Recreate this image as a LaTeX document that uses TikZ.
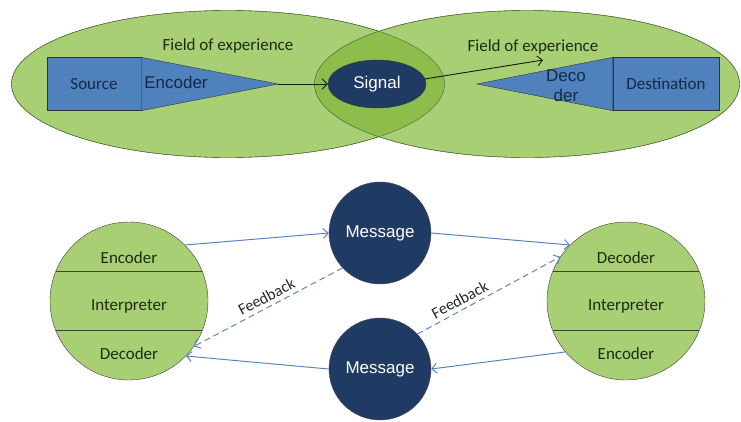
\documentclass[tikz,border=0pt]{standalone}
\usepackage{fontspec}
\setmainfont{Carlito}
\newfontfamily\arialfont{Liberation Sans}
\usetikzlibrary{shapes,arrows,arrows.meta}
\definecolor{fieldgreen}{HTML}{A8CF74}
\definecolor{overlapgreen}{HTML}{8DBE4C}
\definecolor{fieldline}{HTML}{4E6A32}
\definecolor{boxblue}{HTML}{4F81BD}
\definecolor{navy}{HTML}{1F3A63}
\definecolor{linkblue}{HTML}{5A85BE}
\definecolor{inkgreen}{HTML}{1F2B12}
\tikzstyle{field} = [ellipse, draw=fieldline, fill=fieldgreen, minimum height=147pt]
\tikzstyle{block} = [rectangle, draw=black!80, fill=boxblue, minimum height=53pt, text=navy!70!black]
\tikzstyle{wedge} = [draw=black!80, fill=boxblue]
\tikzstyle{arial} = [font=\arialfont\fontsize{17}{20}\selectfont]
\tikzstyle{disc} = [circle, draw=black!70, fill=navy, text=white, minimum size=102pt, arial]
\tikzstyle{person} = [circle, draw=black!75, fill=fieldgreen, minimum size=158pt]
\tikzstyle{line} = [draw, -{Straight Barb[length=5pt,width=10pt]}]
\tikzstyle{signalline} = [line, draw=black!75!fieldline, line width=0.9pt]
\tikzstyle{link} = [line, draw=linkblue, line width=1pt]
\tikzstyle{feedback} = [link, dash pattern=on 6pt off 4pt]
\tikzstyle{feedbacktext} = [sloped, above=3pt, inner sep=1pt, text=black!85, font=\fontsize{16}{18}\selectfont]

\begin{document}
\begin{tikzpicture}[x=1pt, y=-1pt, font=\fontsize{17}{20}\selectfont]
	\useasboundingbox (0,0) rectangle (741,421);

	% fields of experience
	\node [field, minimum width=433pt] (leftfield) at (228,84) {};
	\node [field, minimum width=425pt] (rightfield) at (527,84) {};
	\begin{scope}
		\clip (leftfield.center) ellipse (216.5pt and 73.5pt);
		\fill [overlapgreen] (rightfield.center) ellipse (212.5pt and 73.5pt);
	\end{scope}
	\draw [fieldline] (leftfield.center) ellipse (216.5pt and 73.5pt);
	\draw [fieldline] (rightfield.center) ellipse (212.5pt and 73.5pt);
	\node [text=inkgreen] (leftfieldtext) at (228,46) {Field of experience};
	\node [text=inkgreen] (rightfieldtext) at (533,47) {Field of experience};

	\node [block, minimum width=94pt] (source) at (94,84) {Source};
	\coordinate (enctip) at (278,84);
	\draw [wedge] (source.north east) -- (enctip) -- (source.south east) -- cycle;
	\node [arial, text=navy!70!black] (encoder) at (176,82) {Encoder};

	\node [ellipse, draw=black!80, fill=navy, text=white, minimum width=98pt, minimum height=48pt, arial] (signal) at (377,84) {Signal};

	\node [block, minimum width=106pt] (destination) at (666,84) {Destination};
	\coordinate (dectip) at (477,84);
	\draw [wedge] (destination.north west) -- (dectip) -- (destination.south west) -- cycle;
	\node [arial, text=navy!70!black, align=center] (decoder) at (566,86) {Deco\\der};

	\coordinate (signalend) at (543,60);
	\path [signalline] (enctip) -- (signal);
	\path [signalline] (signal.6) -- (signalend);

	% two-way model
	\node [person] (sender) at (129,301) {};
	\draw [black!75] (sender.158) -- (sender.22);
	\draw [black!75] (sender.-158) -- (sender.-22);
	\node [text=inkgreen] (senderenc) at (129,258) {Encoder};
	\node [text=inkgreen] (senderint) at (129,306) {Interpreter};
	\node [text=inkgreen] (senderdec) at (129,354) {Decoder};

	\node [person] (receiver) at (626,301) {};
	\draw [black!75] (receiver.158) -- (receiver.22);
	\draw [black!75] (receiver.-158) -- (receiver.-22);
	\node [text=inkgreen] (receiverdec) at (626,258) {Decoder};
	\node [text=inkgreen] (receiverint) at (626,306) {Interpreter};
	\node [text=inkgreen] (receiverenc) at (626,354) {Encoder};

	\node [disc] (msgout) at (380,233) {Message};
	\node [disc] (msgback) at (380,369) {Message};

	\path [link] (sender.45) -- (msgout.west);
	\path [link] (msgout.east) -- (receiver.135);
	\path [link] (receiver.-140) -- (msgback.east);
	\path [link] (msgback.west) -- (sender.-44);
	\path [feedback] (msgout.-137) -- node [feedbacktext, pos=0.48] {Feedback} (sender.-35);
	\path [feedback] (msgback.43) -- node [feedbacktext, pos=0.33] {Feedback} (receiver.146);
\end{tikzpicture}
\end{document}
